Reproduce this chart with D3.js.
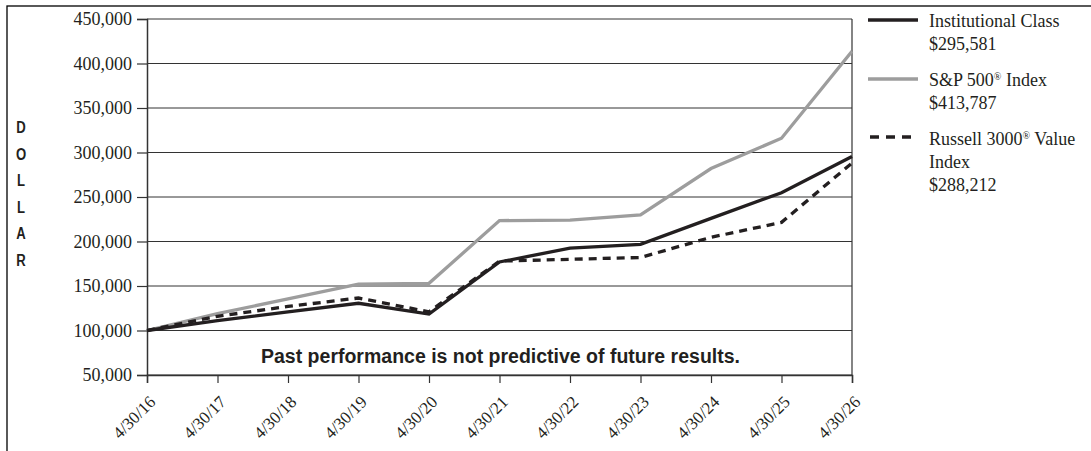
<!DOCTYPE html>
<html>
<head>
<meta charset="utf-8">
<script src="https://cdn.jsdelivr.net/npm/d3@7"></script>
<style>
  html, body { margin: 0; padding: 0; background: #fff; }
  svg { display: block; }
</style>
</head>
<body>
<svg id="chart" width="1091" height="451"></svg>
<script>
const categories = ["4/30/16","4/30/17","4/30/18","4/30/19","4/30/20","4/30/21","4/30/22","4/30/23","4/30/24","4/30/25","4/30/26"];
const institutional = [100000,111000,121000,130600,118500,177000,192500,196800,226000,254800,295581];
const sp500 = [100000,119000,135500,152000,153000,223500,224000,229800,282000,316000,413787];
const russell = [100000,116000,127000,136500,121000,178000,180000,182000,204700,221500,288212];
const yTicks = [50000,100000,150000,200000,250000,300000,350000,400000,450000];
const axisLetters = ["D","O","L","L","A","R"];
const note = "Past performance is not predictive of future results.";

const series = [
  { name: ["Institutional Class", "$295,581"], values: institutional, color: "#231f20", dash: null },
  { name: ["S&P 500", "®", " Index", "$413,787"], values: sp500, color: "#9d9d9d", dash: null },
  { name: ["Russell 3000", "®", " Value", "Index", "$288,212"], values: russell, color: "#231f20", dash: "8,6" }
];

const svg = d3.select("#chart");
const L = 147, R = 852, T = 19, B = 375;
const serif = "'Liberation Serif', 'Times New Roman', serif";

// outer frame
svg.append("rect").attr("x", 7).attr("y", 6).attr("width", 1100).attr("height", 460)
  .attr("fill", "none").attr("stroke", "#000").attr("stroke-width", 1.3);

const x = d3.scalePoint().domain(categories).range([L, R]);
const y = d3.scaleLinear().domain([50000, 450000]).range([B, T]);

// gridlines
svg.append("g").selectAll("line").data(yTicks).join("line")
  .attr("x1", L).attr("x2", R).attr("y1", d => y(d)).attr("y2", d => y(d))
  .attr("stroke", "#333").attr("stroke-width", 1);

// right border of plot
svg.append("line").attr("x1", R).attr("x2", R).attr("y1", T).attr("y2", B)
  .attr("stroke", "#333").attr("stroke-width", 1.2);

// y axis
const yAxis = svg.append("g").attr("transform", `translate(${L},0)`)
  .call(d3.axisLeft(y).tickValues(yTicks).tickFormat(d3.format(",")).tickSizeOuter(0).tickSize(10).tickPadding(5));
yAxis.select(".domain").attr("stroke", "#333").attr("stroke-width", 1.5);
yAxis.selectAll(".tick line").attr("stroke", "#333").attr("stroke-width", 1.2);
yAxis.selectAll("text").attr("font-family", serif)
  .attr("font-size", 18).attr("fill", "#231f20");

// x axis
const xAxis = svg.append("g").attr("transform", `translate(0,${B})`)
  .call(d3.axisBottom(x).tickSizeOuter(0).tickSize(8));
xAxis.select(".domain").attr("stroke", "#333").attr("stroke-width", 1.5);
xAxis.selectAll(".tick line").attr("stroke", "#333").attr("stroke-width", 1.2);
xAxis.selectAll("text")
  .attr("font-family", serif)
  .attr("font-size", 17).attr("fill", "#231f20")
  .attr("text-anchor", "end")
  .attr("x", 0).attr("y", 0).attr("dy", 0)
  .attr("transform", "translate(9,28) rotate(-45)");

// note
svg.append("text").attr("x", (L + R) / 2 + 1).attr("y", 363)
  .attr("text-anchor", "middle")
  .attr("font-family", "'Liberation Sans', Arial, sans-serif")
  .attr("font-weight", "bold").attr("font-size", 19.5).attr("fill", "#231f20")
  .text(note);

// DOLLAR vertical letters (condensed bold)
svg.append("g").selectAll("text").data(axisLetters).join("text")
  .attr("transform", (d, i) => `translate(21,${133 + i * 26.5}) scale(0.82,1)`)
  .attr("text-anchor", "middle")
  .attr("font-family", "'Liberation Sans', Arial, sans-serif")
  .attr("font-weight", "bold").attr("font-size", 16).attr("fill", "#231f20")
  .text(d => d);

// lines
const line = d3.line().x((d, i) => x(categories[i])).y(d => y(d));
const drawOrder = [1, 2, 0];
drawOrder.forEach(k => {
  const s = series[k];
  svg.append("path").datum(s.values)
    .attr("d", line).attr("fill", "none")
    .attr("stroke", s.color).attr("stroke-width", 3.3)
    .attr("stroke-dasharray", s.dash)
    .attr("stroke-linejoin", "miter");
});

// legend
function legText(xp, yp, parts) {
  const t = svg.append("text").attr("x", xp).attr("y", yp)
    .attr("font-family", serif).attr("font-size", 18).attr("fill", "#231f20");
  parts.forEach(p => {
    if (p === "®") t.append("tspan").attr("font-size", 10).attr("dy", -6).text(p);
    else if (t.selectAll("tspan").size() > 0) t.append("tspan").attr("dy", 6).text(p);
    else t.append("tspan").text(p);
  });
}
const lx1 = 868, lx2 = 918, tx = 929;
// Institutional
svg.append("line").attr("x1", lx1).attr("x2", lx2).attr("y1", 20).attr("y2", 20)
  .attr("stroke", series[0].color).attr("stroke-width", 3.5);
legText(tx, 27, [series[0].name[0]]);
legText(tx, 50, [series[0].name[1]]);
// S&P
svg.append("line").attr("x1", lx1).attr("x2", lx2).attr("y1", 79).attr("y2", 79)
  .attr("stroke", series[1].color).attr("stroke-width", 3.5);
legText(tx, 86, series[1].name.slice(0, 3));
legText(tx, 109, [series[1].name[3]]);
// Russell
svg.append("line").attr("x1", lx1 + 2).attr("x2", lx2).attr("y1", 137).attr("y2", 137)
  .attr("stroke", series[2].color).attr("stroke-width", 3.5).attr("stroke-dasharray", "9,7");
legText(tx, 145, series[2].name.slice(0, 3));
legText(tx, 168, [series[2].name[3]]);
legText(tx, 191, [series[2].name[4]]);
</script>
</body>
</html>
